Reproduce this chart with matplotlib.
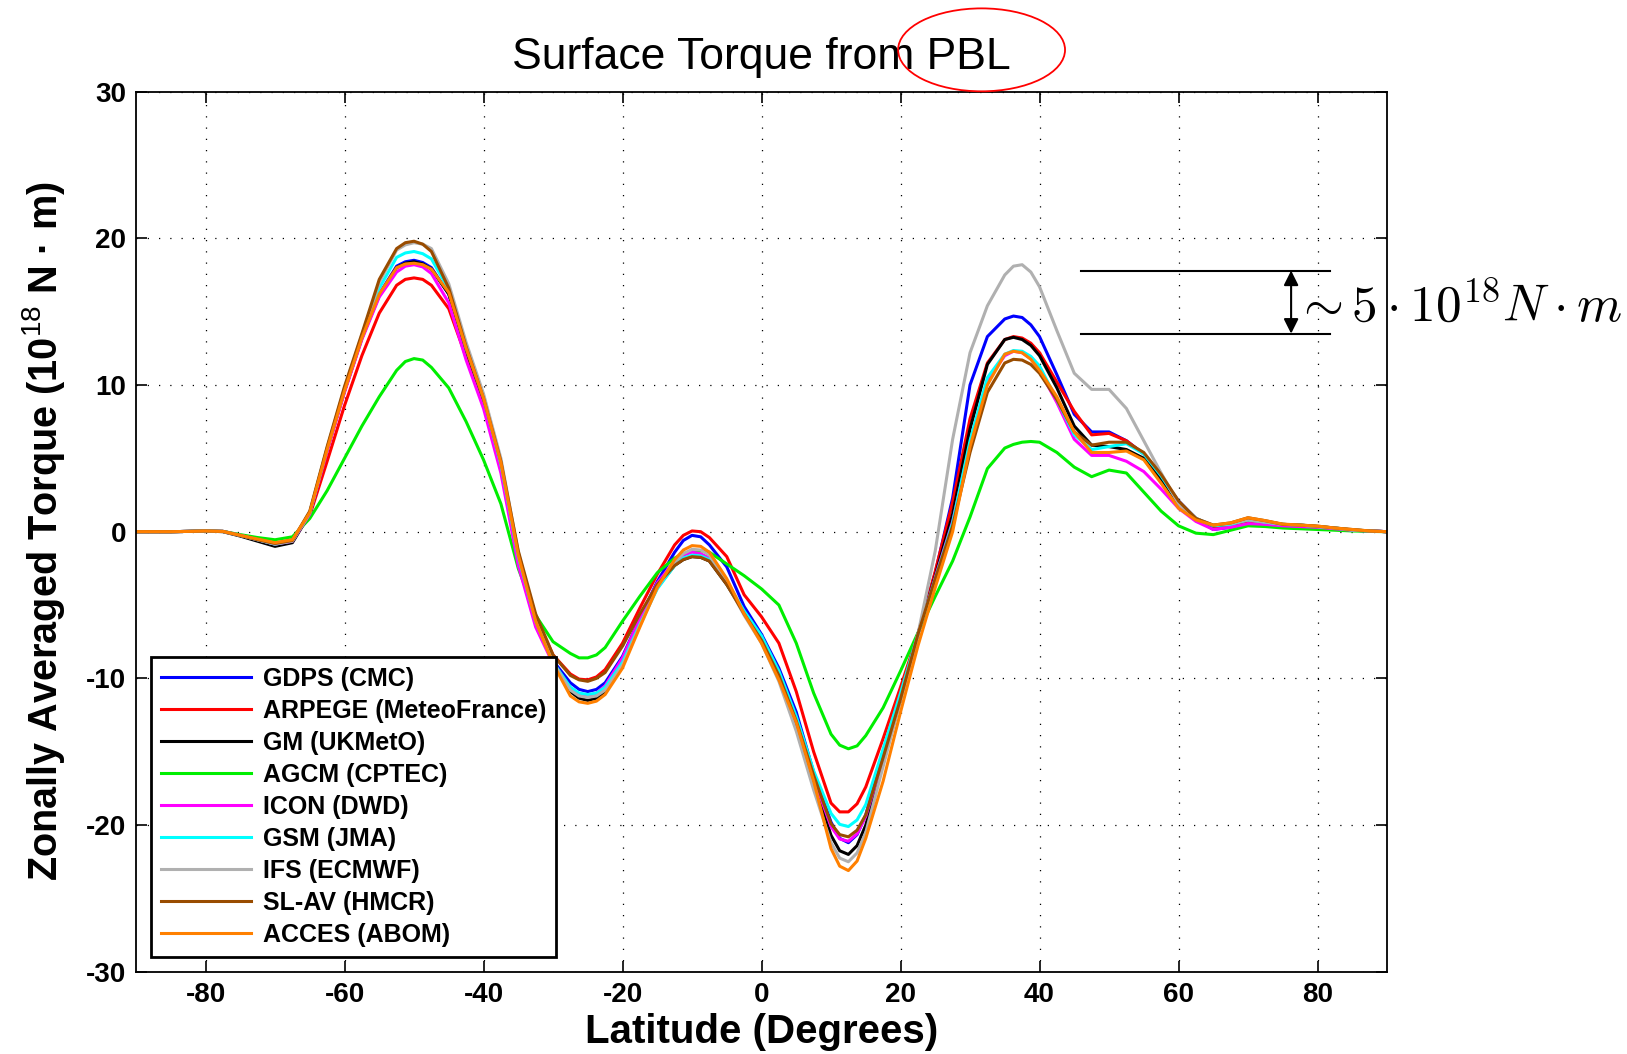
import numpy as np
import matplotlib
matplotlib.use('Agg')
import matplotlib.pyplot as plt
from matplotlib.patches import Ellipse

plt.rcParams['font.family'] = ['Liberation Sans', 'DejaVu Sans']
plt.rcParams['axes.unicode_minus'] = False
plt.rcParams['mathtext.fontset'] = 'custom'
plt.rcParams['mathtext.rm'] = 'Liberation Sans'
plt.rcParams['mathtext.it'] = 'Liberation Sans:italic'
plt.rcParams['mathtext.bf'] = 'Liberation Sans:bold'

# latitude grid (degrees)
lat = [-90, -87.5, -85, -82.5, -80, -77.5, -75, -72.5, -70, -67.5,
       -65, -62.5, -60, -57.5, -55, -52.5, -51.25, -50, -48.75, -47.5, -45,
       -42.5, -40, -37.5, -35, -32.5, -30, -27.5, -26.25, -25, -23.75, -22.5,
       -20, -17.5, -15, -12.5, -11.25, -10, -8.75, -7.5, -5, -2.5, 0,
       2.5, 5, 7.5, 10, 11.25, 12.5, 13.75, 15, 17.5, 20, 22.5,
       25, 27.5, 30, 32.5, 35, 36.25, 37.5, 38.75, 40, 42.5, 45,
       47.5, 50, 52.5, 55, 57.5, 60, 62.5, 65, 67.5,
       70, 72.5, 75, 77.5, 80, 82.5, 85, 87.5, 90]

# zonally averaged torque, 10^18 N m
gdps = [0, 0, 0, 0.02, 0.05, 0.02, -0.25, -0.55, -0.85, -0.6,
        1.3, 5.6, 9.6, 13.2, 16.2, 18.1, 18.4, 18.5, 18.35, 18.0, 16.2,
        12.4, 9.0, 4.6, -1.7, -6.0, -8.8, -10.3, -10.75, -10.9, -10.75, -10.3,
        -8.5, -5.9, -3.4, -1.4, -0.6, -0.25, -0.35, -0.9, -2.4, -5.1, -7.0,
        -9.3, -12.3, -16.4, -19.8, -20.9, -21.2, -20.65, -19.3, -15.2, -11.0, -7.0,
        -2.8, 2.3, 10.0, 13.3, 14.5, 14.7, 14.6, 14.1, 13.3, 10.7, 8.0,
        6.8, 6.8, 6.2, 5.3, 3.7, 2.1, 0.9, 0.15, 0.3,
        0.6, 0.55, 0.45, 0.4, 0.3, 0.2, 0.1, 0.05, 0]
arpege = [0, 0, 0, 0.02, 0.05, 0.02, -0.25, -0.5, -0.8, -0.55,
          1.1, 4.8, 8.6, 12.0, 14.9, 16.8, 17.2, 17.3, 17.2, 16.8, 15.2,
          11.9, 8.7, 4.4, -1.5, -5.8, -8.4, -9.7, -10.05, -10.1, -9.9, -9.4,
          -7.6, -5.2, -2.9, -0.9, -0.25, 0.05, 0.0, -0.4, -1.7, -4.3, -5.8,
          -7.6, -10.9, -15.0, -18.5, -19.1, -19.1, -18.55, -17.4, -14.1, -10.6, -7.0,
          -2.7, 2.0, 7.7, 11.5, 13.1, 13.3, 13.2, 12.85, 12.2, 10.2, 8.2,
          6.6, 6.7, 6.2, 5.3, 3.6, 1.9, 0.9, 0.35, 0.35,
          0.6, 0.55, 0.45, 0.4, 0.3, 0.2, 0.1, 0.05, 0]
gm = [0, 0, 0, 0.02, 0.05, 0.0, -0.3, -0.65, -1.0, -0.75,
      1.2, 5.6, 9.6, 13.2, 16.1, 18.0, 18.3, 18.4, 18.25, 17.9, 16.2,
      12.4, 9.0, 4.6, -1.8, -6.1, -8.9, -10.9, -11.35, -11.5, -11.35, -10.9,
      -9.0, -6.2, -3.8, -2.3, -1.9, -1.7, -1.75, -2.0, -3.6, -5.5, -7.3,
      -9.8, -13.1, -17.0, -20.7, -21.75, -22.0, -21.4, -20.0, -15.8, -11.4, -7.0,
      -3.0, 1.2, 7.0, 11.4, 13.1, 13.25, 13.1, 12.7, 12.0, 9.8, 7.2,
      5.9, 5.8, 5.6, 5.0, 3.6, 2.0, 0.9, 0.4, 0.55,
      0.85, 0.7, 0.5, 0.45, 0.35, 0.25, 0.12, 0.05, 0]
agcm = [0, 0, 0, 0.02, 0.05, 0.02, -0.2, -0.4, -0.55, -0.35,
        0.9, 2.8, 5.0, 7.2, 9.2, 11.0, 11.6, 11.8, 11.7, 11.2, 9.8,
        7.5, 4.9, 1.9, -2.5, -5.7, -7.5, -8.3, -8.6, -8.6, -8.4, -7.9,
        -6.1, -4.4, -2.8, -1.8, -1.5, -1.3, -1.3, -1.4, -2.2, -3.0, -3.9,
        -5.0, -7.6, -11.0, -13.8, -14.55, -14.8, -14.6, -13.9, -12.0, -9.5, -6.9,
        -4.4, -2.0, 1.0, 4.3, 5.7, 5.95, 6.1, 6.15, 6.1, 5.4, 4.4,
        3.75, 4.2, 4.0, 2.7, 1.4, 0.4, -0.1, -0.2, 0.1,
        0.4, 0.35, 0.25, 0.2, 0.15, 0.1, 0.05, 0.02, 0]
icon = [0, 0, 0, 0.02, 0.05, 0.02, -0.25, -0.55, -0.85, -0.65,
        1.2, 5.5, 9.5, 13.1, 16.0, 17.7, 18.1, 18.2, 18.05, 17.6, 15.6,
        11.7, 8.4, 4.0, -2.3, -6.5, -9.0, -10.7, -11.1, -11.2, -11.0, -10.5,
        -8.6, -5.9, -3.5, -2.0, -1.6, -1.4, -1.5, -1.8, -3.4, -5.5, -7.5,
        -9.8, -13.0, -16.8, -20.1, -20.95, -21.1, -20.6, -19.4, -15.5, -11.3, -7.0,
        -3.1, 0.7, 6.0, 10.3, 12.0, 12.3, 12.2, 11.8, 11.0, 8.8, 6.3,
        5.2, 5.2, 4.8, 4.1, 2.9, 1.6, 0.7, 0.15, 0.3,
        0.55, 0.5, 0.4, 0.35, 0.3, 0.2, 0.1, 0.05, 0]
gsm = [0, 0, 0, 0.02, 0.05, 0.02, -0.25, -0.55, -0.85, -0.6,
       1.3, 5.7, 9.7, 13.3, 16.6, 18.7, 19.0, 19.1, 18.95, 18.6, 16.5,
       12.5, 9.1, 4.6, -1.7, -6.1, -8.9, -10.6, -11.0, -11.1, -11.0, -10.6,
       -8.9, -6.3, -3.9, -2.3, -1.8, -1.6, -1.65, -1.9, -3.4, -5.4, -7.1,
       -9.5, -12.6, -16.3, -19.2, -19.95, -20.1, -19.65, -18.6, -14.8, -11.0, -7.0,
       -3.2, 0.6, 6.2, 10.5, 12.1, 12.35, 12.3, 11.95, 11.3, 9.0, 6.6,
       5.6, 5.8, 6.0, 5.3, 3.8, 2.0, 0.9, 0.4, 0.5,
       0.8, 0.65, 0.5, 0.45, 0.35, 0.25, 0.12, 0.05, 0]
ifs = [0, 0, 0, 0.02, 0.05, 0.02, -0.25, -0.55, -0.85, -0.65,
       1.3, 5.7, 9.8, 13.4, 17.0, 19.2, 19.55, 19.7, 19.6, 19.3, 16.9,
       12.9, 9.4, 5.0, -1.4, -5.9, -8.9, -10.8, -11.2, -11.3, -11.2, -10.8,
       -9.1, -6.4, -3.8, -2.1, -1.5, -1.2, -1.25, -1.6, -3.5, -5.7, -7.6,
       -10.2, -13.6, -17.6, -21.2, -22.25, -22.5, -21.9, -20.5, -16.0, -11.5, -7.0,
       -1.3, 6.3, 12.2, 15.4, 17.5, 18.1, 18.2, 17.7, 16.7, 13.7, 10.8,
       9.7, 9.7, 8.4, 6.2, 4.0, 1.9, 0.9, 0.45, 0.55,
       0.8, 0.65, 0.5, 0.45, 0.35, 0.25, 0.12, 0.05, 0]
slav = [0, 0, 0, 0.02, 0.05, 0.02, -0.25, -0.55, -0.8, -0.6,
        1.4, 5.8, 9.9, 13.5, 17.2, 19.3, 19.7, 19.8, 19.6, 19.1, 16.6,
        12.6, 9.1, 4.8, -1.3, -5.6, -8.4, -9.8, -10.1, -10.2, -10.0, -9.6,
        -7.8, -5.6, -3.6, -2.3, -1.9, -1.7, -1.75, -2.0, -3.6, -5.6, -7.4,
        -9.8, -12.9, -16.6, -19.9, -20.65, -20.8, -20.35, -19.3, -15.4, -11.4, -7.0,
        -3.2, 0.4, 5.4, 9.5, 11.5, 11.75, 11.7, 11.4, 10.8, 9.0, 6.8,
        5.9, 6.1, 6.1, 5.4, 3.9, 2.1, 0.9, 0.45, 0.6,
        0.95, 0.75, 0.5, 0.45, 0.38, 0.25, 0.15, 0.05, 0]
acces = [0, 0, 0, 0.02, 0.05, 0.02, -0.25, -0.5, -0.75, -0.55,
         1.3, 5.6, 9.6, 13.2, 16.2, 18.0, 18.25, 18.3, 18.2, 17.9, 16.3,
         12.5, 9.1, 4.7, -1.6, -6.1, -9.0, -11.2, -11.6, -11.7, -11.55, -11.1,
         -9.3, -6.5, -3.8, -1.9, -1.25, -0.95, -1.0, -1.4, -3.2, -5.6, -7.6,
         -10.1, -13.0, -17.0, -21.6, -22.8, -23.1, -22.45, -20.9, -17.0, -12.3, -7.8,
         -3.8, 0.0, 5.8, 10.0, 12.1, 12.3, 12.2, 11.75, 11.0, 9.2, 6.8,
         5.4, 5.4, 5.5, 4.9, 3.3, 1.6, 0.8, 0.45, 0.6,
         0.95, 0.75, 0.52, 0.45, 0.38, 0.25, 0.15, 0.05, 0]

models = ['GDPS (CMC)', 'ARPEGE (MeteoFrance)', 'GM (UKMetO)', 'AGCM (CPTEC)',
          'ICON (DWD)', 'GSM (JMA)', 'IFS (ECMWF)', 'SL-AV (HMCR)', 'ACCES (ABOM)']
series = [gdps, arpege, gm, agcm, icon, gsm, ifs, slav, acces]
colors = ['#0000ff', '#ff0000', '#000000', '#00ee00', '#ff00ff',
          '#00ffff', '#b0b0b0', '#994c00', '#ff8000']

fig = plt.figure(figsize=(16.27, 10.54), dpi=100)
ax = fig.add_axes([0.0836, 0.078, 0.7689, 0.8351])

for vals, name, c in zip(series, models, colors):
    ax.plot(lat, vals, color=c, lw=2.2, label=name, solid_joinstyle='round')

ax.set_xlim(-90, 90)
ax.set_ylim(-30, 30)
ax.set_xticks([-80, -60, -40, -20, 0, 20, 40, 60, 80])
ax.set_yticks([-30, -20, -10, 0, 10, 20, 30])
ax.grid(True, color='k', lw=0.9, linestyle=(0, (1, 8)))
ax.tick_params(direction='in', top=True, right=True, length=8, width=1.2,
               labelsize=20, pad=7)
for lab in ax.get_xticklabels() + ax.get_yticklabels():
    lab.set_fontweight('bold')
for s in ax.spines.values():
    s.set_linewidth(1.3)

ax.set_title('Surface Torque from PBL', fontsize=32, pad=16)
ax.set_xlabel('Latitude (Degrees)', fontsize=29, fontweight='bold', labelpad=4)
ax.set_ylabel('Zonally Averaged Torque (10$^{18}$ N · m)', fontsize=28.5,
              fontweight='bold', labelpad=14)

leg = ax.legend(loc='lower left', bbox_to_anchor=(0.0116, 0.0168), borderaxespad=0,
                prop={'size': 18, 'weight': 'bold'}, handlelength=3.6,
                labelspacing=0.32, fancybox=False, edgecolor='k', framealpha=1,
                borderpad=0.4, handletextpad=0.5)
leg.get_frame().set_linewidth(2)

# spread annotation
ax.plot([46.0, 81.8], [17.8, 17.8], color='k', lw=1.5)
ax.plot([46.0, 81.8], [13.5, 13.5], color='k', lw=1.5)
ax.annotate('', xy=(76.2, 13.5), xytext=(76.2, 17.8),
            arrowprops=dict(arrowstyle='<|-|>', color='k', lw=1.5,
                            mutation_scale=22, shrinkA=0, shrinkB=0))
ax.text(76.6, 15.3, r'$\sim 5\cdot10^{18}N\cdot m$', fontsize=37,
        math_fontfamily='cm', va='center', ha='left', clip_on=False)

# red circle drawn round "PBL"
fig.patches.append(Ellipse((0.6033, 0.9527), 0.1026, 0.0787, transform=fig.transFigure,
                           fill=False, edgecolor='red', lw=1.3))

fig.savefig('out.png', dpi=100)
